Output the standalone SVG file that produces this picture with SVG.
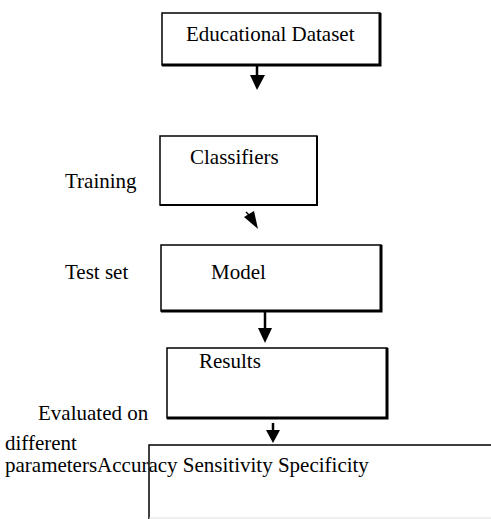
<svg xmlns="http://www.w3.org/2000/svg" width="491" height="519" viewBox="0 0 491 519">
<style>
text{font-family:"Liberation Serif","Times New Roman",serif;font-size:21px;fill:#000}
.box{fill:#fff;stroke:#000;stroke-width:1.5}
.sh{stroke:#000;stroke-width:3;fill:none}
.ln{stroke:#000;stroke-width:2.5;fill:none}
</style>
<rect width="491" height="519" fill="#fff"/>
<g id="n1">
<rect class="box" x="162" y="13" width="218" height="52"/>
<polyline class="sh" points="380,13 380,65 162,65"/>
<text x="186" y="41">Educational Dataset</text>
</g>
<g id="n2">
<rect class="box" x="160" y="136" width="157" height="69"/>
<polyline class="sh" points="317,136 317,205 160,205" style="stroke-width:2"/>
<text x="190" y="164">Classifiers</text>
</g>
<g id="n3">
<rect class="box" x="161" y="245" width="220" height="66"/>
<polyline class="sh" points="381,245 381,311 161,311"/>
<text x="211" y="279">Model</text>
</g>
<g id="n4">
<rect class="box" x="167" y="348" width="220" height="70"/>
<polyline class="sh" points="387,348 387,418 167,418"/>
<text x="199" y="368">Results</text>
</g>
<g id="n5">
<polyline points="149,519 149,445 491,445" fill="none" stroke="#000" stroke-width="1.5"/>
<line x1="149" y1="518" x2="491" y2="518" stroke="#e0e0e0" stroke-width="1"/>
</g>
<g id="labels">
<text x="65" y="188">Training</text>
<text x="65" y="279">Test set</text>
<text x="38" y="420">Evaluated on</text>
<text x="5" y="450">different</text>
<text x="5" y="472">parametersAccuracy Sensitivity Specificity</text>
</g>
<g id="connectors">
<line class="ln" x1="257" y1="65" x2="257" y2="76"/>
<polygon points="250,75 265,75 257,90" fill="#000"/>
<line x1="246" y1="212" x2="250" y2="216" stroke="#000" stroke-width="1.5"/>
<polygon points="244,217 254,211 258,229" fill="#000"/>
<line class="ln" x1="265" y1="311" x2="265" y2="330"/>
<polygon points="258,328 272,328 265,343" fill="#000"/>
<line class="ln" x1="273" y1="423" x2="273" y2="432"/>
<polygon points="266,430 280,430 273,443" fill="#000"/>
</g>
</svg>
